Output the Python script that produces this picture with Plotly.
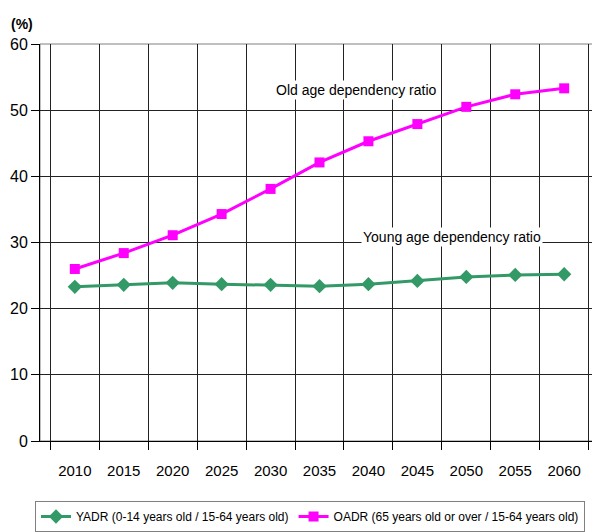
import plotly.graph_objects as go

years = ["2010", "2015", "2020", "2025", "2030", "2035", "2040", "2045", "2050", "2055", "2060"]
yadr = [23.3, 23.6, 23.9, 23.7, 23.6, 23.4, 23.7, 24.2, 24.8, 25.1, 25.2]
oadr = [26.0, 28.4, 31.1, 34.3, 38.1, 42.1, 45.3, 47.9, 50.5, 52.4, 53.3]
yticks = [0, 10, 20, 30, 40, 50, 60]

FONT = "Liberation Sans, Arial, sans-serif"

fig = go.Figure()
fig.add_trace(go.Scatter(
    x=years, y=yadr, mode="lines+markers",
    name="YADR (0-14 years old / 15-64 years old)",
    line=dict(color="#339966", width=3),
    marker=dict(symbol="diamond", size=11, color="#339966"),
))
fig.add_trace(go.Scatter(
    x=years, y=oadr, mode="lines+markers",
    name="OADR (65 years old or over / 15-64 years old)",
    line=dict(color="#FF00FF", width=3),
    marker=dict(symbol="square", size=10, color="#FF00FF"),
))

fig.add_annotation(x=0.566, y=0.909, xref="paper", yref="paper", xanchor="center",
                   text="Old age dependency ratio", showarrow=False,
                   bgcolor="white", font=dict(size=14, color="#000000", family=FONT))
fig.add_annotation(x=0.737, y=0.514, xref="paper", yref="paper", xanchor="center",
                   text="Young age dependency ratio", showarrow=False,
                   bgcolor="white", font=dict(size=14, color="#000000", family=FONT))
fig.add_annotation(x=0, y=1.0, xref="paper", yref="paper", xshift=-18, yshift=10,
                   text="<b>(%)</b>", showarrow=False, xanchor="center", yanchor="bottom",
                   font=dict(size=14, color="#000000", family=FONT))

fig.update_layout(
    width=600, height=524,
    margin=dict(l=32, r=9, t=36, b=91, autoexpand=False),
    paper_bgcolor="white", plot_bgcolor="white",
    font=dict(family=FONT, color="#000000"),
    showlegend=True,
    legend=dict(orientation="h", xref="container", yref="container",
                x=0.045, xanchor="left", y=0.0, yanchor="bottom",
                bordercolor="#808080", borderwidth=1, font=dict(size=12, family=FONT),
                itemwidth=30),
    xaxis=dict(type="category", tickson="boundaries", ticks="outside", ticklen=8,
               tickcolor="#000000", showgrid=True, gridcolor="#222222", gridwidth=1,
               showline=True, linecolor="#000000", linewidth=1, mirror=False,
               tickfont=dict(size=15, family=FONT), ticklabelstandoff=16,
               tickangle=0, zeroline=False, automargin=False),
    yaxis=dict(range=[0, 60], tickvals=yticks, ticks="outside", ticklen=8,
               tickcolor="#000000", showgrid=True, gridcolor="#222222", gridwidth=1,
               showline=True, linecolor="#000000", linewidth=1,
               tickfont=dict(size=16, family=FONT), zeroline=False, automargin=False),
)
fig.add_shape(type="rect", xref="paper", yref="paper", x0=0, y0=0, x1=1, y1=1,
              line=dict(color="#808080", width=1), layer="below")

fig.write_html("out.html")
